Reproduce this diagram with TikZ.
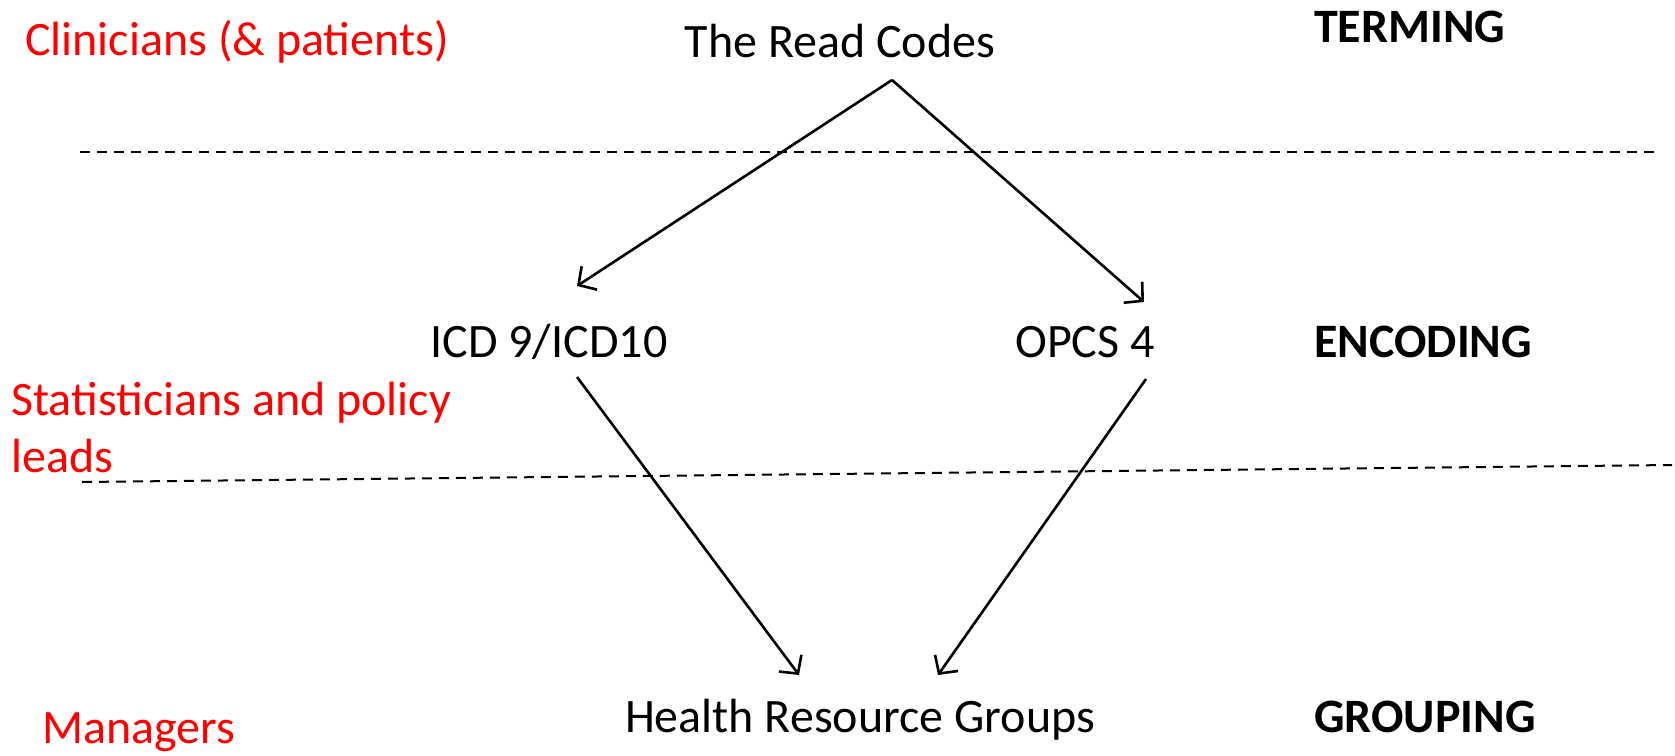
\documentclass[tikz,border=0pt]{standalone}
\usepackage{fontspec}
\setmainfont{Carlito}
\usetikzlibrary{arrows.meta}

\tikzset{
lbl/.style={inner sep=0pt,anchor=base,font=\fontsize{48}{57}\selectfont},
who/.style={lbl,anchor=base west,text=red,align=left},
lvl/.style={lbl,anchor=base west,font=\fontsize{48}{57}\selectfont\bfseries},
sep/.style={line width=2pt,dash pattern=on 10pt off 7pt}
}

\begin{document}
\begin{tikzpicture}[x=1pt,y=-1pt,>={Straight Barb[length=13pt,width=28pt]}]
\useasboundingbox (0,0) rectangle (1675,755);
\node[lbl](read) at (840,57) {The Read Codes};
\node[lbl](icd) at (549,357) {ICD 9/ICD10};
\node[lbl](opcs) at (1085,357) {OPCS 4};
\node[lbl](hrg) at (860,732) {Health Resource Groups};
\node[who](clin) at (25,55) {Clinicians (\& patients)};
\node[who](stat) at (11,472) {Statisticians and policy\\leads};
\node[who](man) at (42,743) {Managers};
\node[lvl](term) at (1314,42) {TERMING};
\node[lvl](enc) at (1314,357) {ENCODING};
\node[lvl](grp) at (1314,732) {GROUPING};
\draw[sep] (80,152) -- (1657,152);
\draw[sep] (82,482) -- (1672,465);
\coordinate (apex) at ([shift={(52,23)}]read.base);
\coordinate (icd-in) at ([shift={(28,-71)}]icd.base);
\coordinate (icd-out) at ([shift={(28,20)}]icd.base);
\coordinate (opcs-in) at ([shift={(59,-55)}]opcs.base);
\coordinate (opcs-out) at ([shift={(61,22)}]opcs.base);
\coordinate (hrg-l) at ([shift={(-61,-57)}]hrg.base);
\coordinate (hrg-r) at ([shift={(78,-57)}]hrg.base);
\path[->,line width=2.6pt](apex) edge (icd-in);
\path[->,line width=2.6pt](apex) edge (opcs-in);
\path[->,line width=2.6pt](icd-out) edge (hrg-l);
\path[->,line width=2.6pt](opcs-out) edge (hrg-r);
\end{tikzpicture}
\end{document}
